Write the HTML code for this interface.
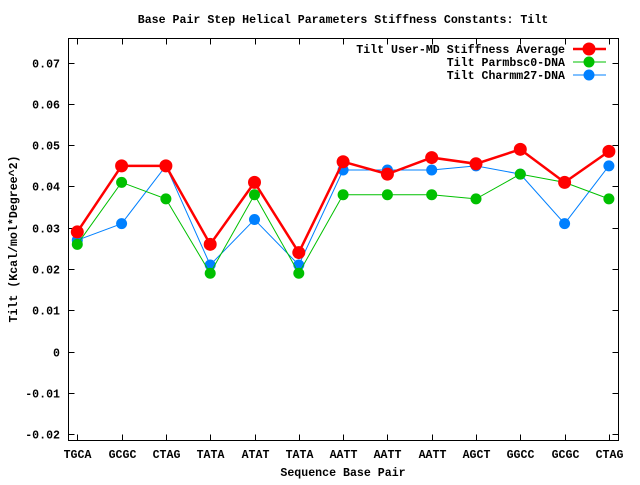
<!DOCTYPE html>
<html><head><meta charset="utf-8"><style>
body{margin:0;background:#fff}
svg text{font-family:"Liberation Mono",monospace;font-weight:bold;font-size:11.6px;fill:#000}
</style></head><body>
<svg id="chart" width="640" height="480" xmlns="http://www.w3.org/2000/svg">
<text x="343" y="23" text-anchor="middle">Base Pair Step Helical Parameters Stiffness Constants: Tilt</text>
<g id="axes"></g><g id="series"></g>
<text x="343" y="476" text-anchor="middle">Sequence Base Pair</text>
<text transform="translate(17,239) rotate(-90)" text-anchor="middle">Tilt (Kcal/mol*Degree^2)</text>
</svg>
<script>
const categories=["TGCA","GCGC","CTAG","TATA","ATAT","TATA","AATT","AATT","AATT","AGCT","GGCC","GCGC","CTAG"];
const userMD=[0.029,0.045,0.045,0.026,0.041,0.024,0.046,0.043,0.047,0.0455,0.049,0.041,0.0485];
const parmbsc0=[0.026,0.041,0.037,0.019,0.038,0.019,0.038,0.038,0.038,0.037,0.043,0.041,0.037];
const charmm27=[0.027,0.031,0.045,0.021,0.032,0.021,0.044,0.044,0.044,0.045,0.043,0.031,0.045];
const yTicks=[-0.02,-0.01,0,0.01,0.02,0.03,0.04,0.05,0.06,0.07];
const yTickLabels=["-0.02","-0.01","0","0.01","0.02","0.03","0.04","0.05","0.06","0.07"];
const seriesNames=["Tilt User-MD Stiffness Average","Tilt Parmbsc0-DNA","Tilt Charmm27-DNA"];

const NS="http://www.w3.org/2000/svg";
const L=68.5,R=618.5,T=38.5,B=440.5;
const xs=i=>77.3+i*44.3;
const ys=v=>351.7-v*4130;
function mk(tag,attrs,parent){const e=document.createElementNS(NS,tag);for(const k in attrs)e.setAttribute(k,attrs[k]);parent.appendChild(e);return e;}
const ax=document.getElementById('axes');
const frame=mk('rect',{x:L,y:T,width:R-L,height:B-T,fill:'none',stroke:'#000','stroke-width':1},ax);


yTicks.forEach((v,i)=>{
  const y=Math.round(ys(v))+0.5;
  const t=mk('path',{d:`M${L},${y}h6M${R},${y}h-6`,stroke:'#000'},ax);
  
  
  const tx=mk('text',{x:60,y:y+4,'text-anchor':'end'},ax);
  
  
  tx.textContent=yTickLabels[i];
});
categories.forEach((c,i)=>{
  const x=Math.round(xs(i))+0.5;
  const t=mk('path',{d:`M${x},${B}v-6M${x},${T}v6`,stroke:'#000'},ax);
  
  
  const tx=mk('text',{x:x,y:458,'text-anchor':'middle'},ax);
  
  
  tx.textContent=c;
});
const sg=document.getElementById('series');
const defs=[[userMD,'#ff0000',2.5,6.5,'user-md'],[parmbsc0,'#00c000',1,5.5,'parmbsc0'],[charmm27,'#0080ff',1,5.5,'charmm27']];
function drawSeries(d,idx){
  const [vals,col,w,r,nm]=d;
  const g=mk('g',{},sg);
  
  
  const p=mk('polyline',{points:vals.map((v,i)=>xs(i)+','+ys(v)).join(' '),fill:'none',stroke:col,'stroke-width':w},g);
  
  
  vals.forEach((v,i)=>{
    const c=mk('circle',{cx:xs(i),cy:ys(v),r:r,fill:col},g);
    
    
  });
  const ly=49+idx*13;
  const lg=mk('g',{},sg);
  
  
  const t=mk('text',{x:565,y:ly+4,'text-anchor':'end'},lg);
  t.textContent=seriesNames[idx];
  mk('line',{x1:573,x2:606,y1:ly,y2:ly,stroke:col,'stroke-width':w},lg);
  mk('circle',{cx:589,cy:ly,r:r,fill:col},lg);
}
[2,1,0].forEach(i=>drawSeries(defs[i],i));
</script>
</body></html>
